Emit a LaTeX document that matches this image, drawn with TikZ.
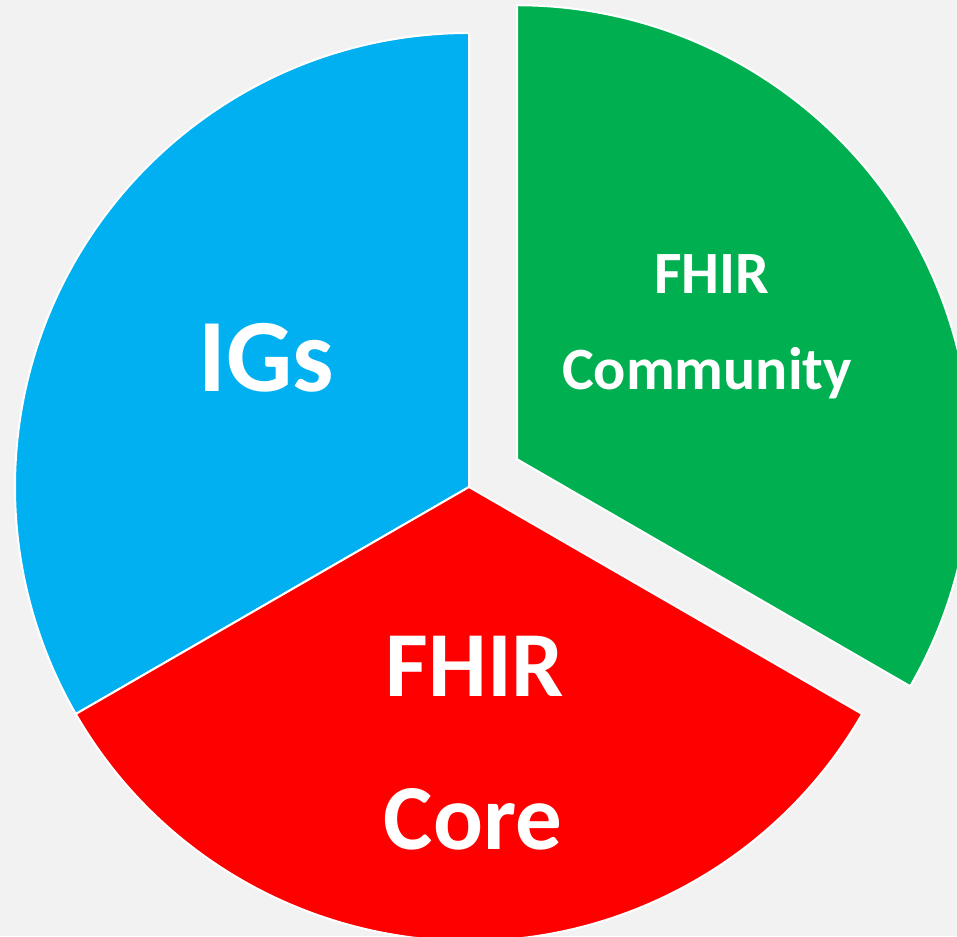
\documentclass[tikz,border=0pt]{standalone}
\usepackage{fontspec}
\setmainfont{Carlito}
\usepackage{tikz}
\usetikzlibrary{calc}
\definecolor{igblue}{HTML}{00B0F0}
\definecolor{corered}{HTML}{FF0000}
\definecolor{commgreen}{HTML}{00B050}
\definecolor{pagebg}{HTML}{F2F2F2}

\begin{document}
\begin{tikzpicture}[x=1pt,y=1pt,
    slice/.style={draw=white,line width=2pt,line join=miter},
    biglabel/.style={text=white,font=\bfseries\fontsize{104}{104}\selectfont,anchor=base,inner sep=0pt},
    midlabel/.style={text=white,font=\bfseries\fontsize{93}{93}\selectfont,anchor=base,inner sep=0pt},
    smalllabel/.style={text=white,font=\bfseries\fontsize{60}{60}\selectfont,anchor=base,inner sep=0pt}]
        \fill[pagebg] (0,0) rectangle (957,936);
        \useasboundingbox (0,0) rectangle (957,936);
        \clip (0,0) rectangle (957,936);

        \coordinate (hub) at (469,449);
        \coordinate (hubgreen) at ($(hub)+(30:55.5)$);

        \filldraw[slice,fill=igblue] (hub)--++(90:454) arc[start angle=90,end angle=210,radius=454]--cycle;
        \filldraw[slice,fill=corered] (hub)--++(210:454) arc[start angle=210,end angle=330,radius=454]--cycle;
        \filldraw[slice,fill=commgreen] (hubgreen)--++(-30:454) arc[start angle=-30,end angle=90,radius=454]--cycle;

        \node[biglabel] (igs) at (266.5,544) {IGs};
        \node[midlabel] (corefhir) at (475,239) {FHIR};
        \node[midlabel] (corecore) at (473,86) {Core};
        \node[smalllabel] (commfhir) at (712,642) {FHIR};
        \node[smalllabel] (commcomm) at (707,546) {Community};
    \end{tikzpicture}
\end{document}
